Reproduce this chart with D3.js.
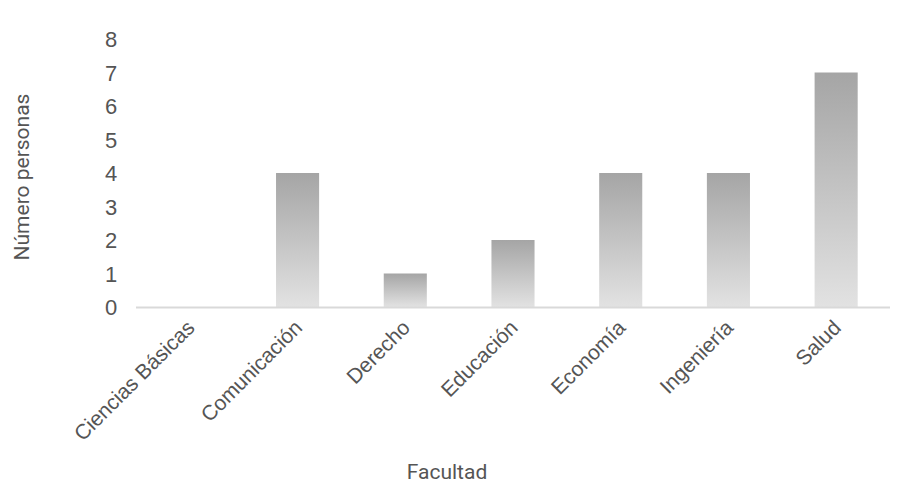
<!DOCTYPE html>
<html><head><meta charset="utf-8">
<script src="https://cdn.jsdelivr.net/npm/d3@7"></script>
<style>body{margin:0;background:#fff;}svg{display:block;font-family:Roboto,"DejaVu Sans",sans-serif;}</style>
</head><body>
<svg id="c" width="911" height="487"></svg>
<script>
const categories = ["Ciencias Básicas","Comunicación","Derecho","Educación","Economía","Ingeniería","Salud"];
const values = [0,4,1,2,4,4,7];
const yTicks = [0,1,2,3,4,5,6,7,8];
const xTitle = "Facultad";
const yTitle = "Número personas";

const svg = d3.select("#c");
const m = {l:136, r:21, t:39, b:180};
const W = 911, H = 487;
const x = d3.scaleBand().domain(categories).range([m.l, W - m.r]).paddingInner(0.6).paddingOuter(0.3);
const y = d3.scaleLinear().domain([0,8]).range([307, 39]);
const textCol = "#555555";

const defs = svg.append("defs");
const g = defs.append("linearGradient").attr("id","gr").attr("x1",0).attr("y1",0).attr("x2",0).attr("y2",1);
g.append("stop").attr("offset","0%").attr("stop-color","#a5a5a5");
g.append("stop").attr("offset","100%").attr("stop-color","#e2e2e2");

// bars
svg.append("g").selectAll("rect").data(categories).join("rect")
  .attr("x", d => x(d))
  .attr("y", (d,i) => y(values[i]))
  .attr("width", x.bandwidth())
  .attr("height", (d,i) => y(0) - y(values[i]))
  .attr("fill","url(#gr)");

// x axis line
svg.append("line").attr("x1", m.l).attr("x2", W - m.r).attr("y1", y(0)+0.5).attr("y2", y(0)+0.5)
  .attr("stroke","#d9d9d9").attr("stroke-width",2);

// y ticks
const ya = d3.axisLeft(y).tickValues(yTicks).tickSize(0).tickPadding(0).tickFormat(d3.format("d"));
const yg = svg.append("g").attr("transform",`translate(${m.l-25},0)`).call(ya);
yg.select(".domain").remove();
yg.selectAll("text").attr("fill",textCol).attr("font-size",22).attr("text-anchor","middle").attr("dy","0.36em");

// x labels
const xa = d3.axisBottom(x).tickSize(0).tickPadding(0);
const xg = svg.append("g").attr("transform",`translate(0,${y(0)})`).call(xa);
xg.select(".domain").remove();
xg.selectAll("text").attr("fill",textCol).attr("font-size",21)
  .attr("text-anchor","end").attr("dy",0).attr("y",0)
  .attr("transform","translate(6,22) rotate(-45)");

// titles
svg.append("text").attr("x", (m.l + W - m.r)/2 - 66).attr("y", 479).attr("text-anchor","middle")
  .attr("fill",textCol).attr("font-size",21).text(xTitle);
svg.append("text").attr("transform","translate(29,177) rotate(-90)").attr("text-anchor","middle")
  .attr("fill",textCol).attr("font-size",21).text(yTitle);
</script>
</body></html>
